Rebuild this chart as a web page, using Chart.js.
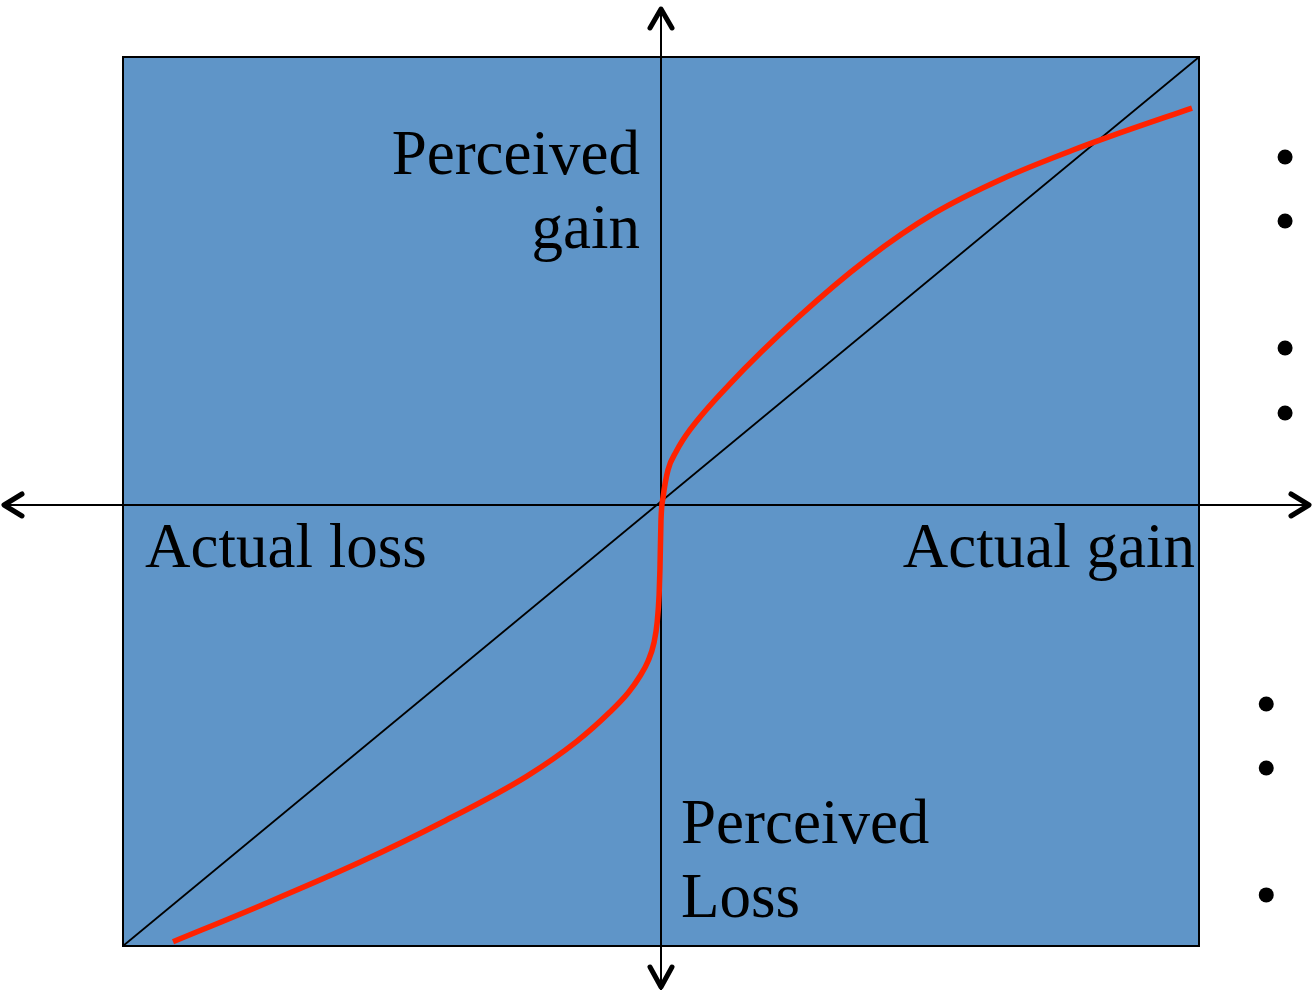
<!DOCTYPE html>
<html>
<head>
<meta charset="utf-8">
<script src="https://cdn.jsdelivr.net/npm/chart.js@4.4.1/dist/chart.umd.min.js"></script>
<style>
  html, body { margin: 0; padding: 0; background: #fff; }
  #wrap { width: 1313px; height: 995px; }
</style>
</head>
<body>
<div id="wrap"><canvas id="valueChart" width="1313" height="995"></canvas></div>
<script>
// axis limits (actual gain/loss on x, perceived on y)
const xLimits = [-100, 100];
const yLimits = [-82, 83.3];

// red value curve
const actual    = [-90.7, -74.5, -55.9, -40.5, -24.9, -15.6, -9.5, -6.1, -3.9, -2.4, -1.3, -0.7, -0.35, -0.2, 0, 0.4, 1.3, 2.8, 5.4, 12.6, 25.5, 38.3, 50.9, 63.8, 76.6, 83.1, 98.7];
const perceived = [-81.2, -74.5, -66.4, -58.9, -50.4, -43.9, -38.5, -34.9, -31.8, -29.0, -25.6, -21.7, -16.7, -12.1, -2.8, 1.5, 6.5, 9.9, 14.0, 22.3, 34.9, 45.7, 54.3, 60.8, 66.0, 68.4, 73.8];

// bullet marks on the right edge
const bulletX = [116, 116, 116, 116, 112.5, 112.5, 112.5];
const bulletY = [64.7, 52.8, 29.2, 17.1, -37.0, -48.9, -72.5];

const labelFont = '63px "Liberation Serif", "Times New Roman", serif';

const backdrop = {
    id: 'backdrop',
    beforeDatasetsDraw(chart) {
        const { ctx, chartArea: a, scales } = chart;
        const x0 = scales.x.getPixelForValue(0);
        const y0 = scales.y.getPixelForValue(0);
        ctx.save();
        ctx.fillStyle = '#5f95c8';
        ctx.fillRect(a.left, a.top, a.right - a.left, a.bottom - a.top);

        // axes with open arrow heads
        ctx.strokeStyle = '#000';
        ctx.lineWidth = 2;
        ctx.beginPath();
        ctx.moveTo(3, y0); ctx.lineTo(chart.width - 2, y0);
        ctx.moveTo(x0, 7); ctx.lineTo(x0, chart.height - 5);
        ctx.stroke();
        ctx.lineWidth = 5;
        ctx.lineCap = 'round';
        ctx.lineJoin = 'round';
        const w = chart.width, h = chart.height;
        ctx.beginPath();
        ctx.moveTo(22, y0 - 11); ctx.lineTo(4, y0); ctx.lineTo(22, y0 + 11);
        ctx.moveTo(w - 22, y0 - 11); ctx.lineTo(w - 4, y0); ctx.lineTo(w - 22, y0 + 11);
        ctx.moveTo(x0 - 11, 28); ctx.lineTo(x0, 9); ctx.lineTo(x0 + 11, 28);
        ctx.moveTo(x0 - 11, h - 28); ctx.lineTo(x0, h - 8); ctx.lineTo(x0 + 11, h - 28);
        ctx.stroke();
        ctx.restore();
    },
    afterDatasetsDraw(chart) {
        const { ctx, chartArea: a, scales } = chart;
        const x0 = scales.x.getPixelForValue(0);
        const y0 = scales.y.getPixelForValue(0);
        ctx.save();
        ctx.strokeStyle = '#000';
        ctx.lineWidth = 2;
        ctx.strokeRect(a.left, a.top, a.right - a.left, a.bottom - a.top);

        ctx.fillStyle = '#000';
        ctx.font = labelFont;
        ctx.textBaseline = 'alphabetic';
        ctx.textAlign = 'right';
        ctx.fillText('Perceived', x0 - 21, 174);
        ctx.fillText('gain', x0 - 21, 248);
        ctx.fillText('Actual gain', a.right - 4, y0 + 62);
        ctx.textAlign = 'left';
        ctx.fillText('Actual loss', a.left + 22, y0 + 62);
        ctx.fillText('Perceived', x0 + 20, 843);
        ctx.fillText('Loss', x0 + 20, 917);

        // bullets sit outside the plot area, so draw them here through the scales
        bulletX.forEach((bx, i) => {
            ctx.beginPath();
            ctx.arc(scales.x.getPixelForValue(bx), scales.y.getPixelForValue(bulletY[i]), 7.5, 0, Math.PI * 2);
            ctx.fill();
        });
        ctx.restore();
    }
};

new Chart(document.getElementById('valueChart'), {
    type: 'scatter',
    data: {
        datasets: [
            {
                label: 'Value function',
                data: actual.map((x, i) => ({ x, y: perceived[i] })),
                showLine: true,
                borderColor: '#ff2200',
                borderWidth: 5.5,
                cubicInterpolationMode: 'monotone',
                pointRadius: 0
            },
            {
                label: 'Diagonal',
                data: [{ x: xLimits[0], y: yLimits[0] }, { x: xLimits[1], y: yLimits[1] }],
                showLine: true,
                borderColor: '#000',
                borderWidth: 1.8,
                pointRadius: 0
            }
        ]
    },
    options: {
        responsive: false,
        animation: false,
        layout: { padding: { left: 123, right: 114, top: 57, bottom: 49 } },
        plugins: { legend: { display: false }, tooltip: { enabled: false } },
        scales: {
            x: { type: 'linear', min: xLimits[0], max: xLimits[1], display: false },
            y: { type: 'linear', min: yLimits[0], max: yLimits[1], display: false }
        }
    },
    plugins: [backdrop]
});
</script>
</body>
</html>
